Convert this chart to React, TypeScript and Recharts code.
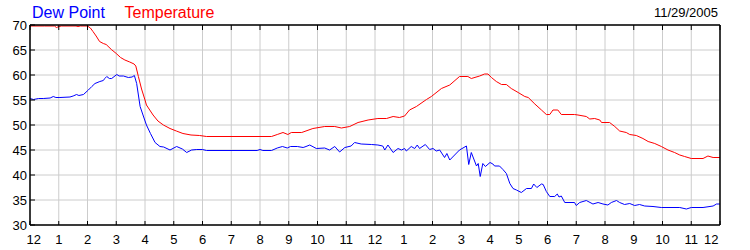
// Dew point and temperature over 24 hours, drawn with recharts.

import * as React from 'react';
import { CartesianGrid, Line, LineChart, XAxis, YAxis } from 'recharts';

const tempHours = [
  0, 0.5, 0.85, 0.92, 1.0, 1.1, 1.6, 1.67, 1.75, 2.0, 2.1, 2.19, 2.3, 2.42, 2.55, 2.65, 2.83, 3.0, 3.15, 3.3,
  3.47, 3.62, 3.68, 3.77, 3.88, 4.0, 4.05, 4.28, 4.45, 4.64, 4.87, 5.09, 5.32, 5.6, 5.9, 6.14, 8.4, 8.6, 8.8,
  8.97, 9.09, 9.45, 9.84, 10.25, 10.6, 10.83, 11.12, 11.41, 11.76, 12.1, 12.4, 12.63, 12.85, 13.03, 13.2,
  13.44, 13.79, 13.96, 14.31, 14.6, 14.94, 15.23, 15.35, 15.64, 15.81, 15.93, 16.05, 16.22, 16.4, 16.57,
  16.74, 16.98, 17.21, 17.33, 17.56, 17.79, 17.96, 18.08, 18.19, 18.36, 18.48, 18.94, 19.06, 19.35, 19.47,
  19.64, 19.82, 19.88, 20.16, 20.34, 20.51, 20.74, 20.86, 21.09, 21.32, 21.5, 21.73, 21.96, 22.19, 22.42,
  22.6, 22.77, 23.0, 23.41, 23.58, 23.76, 24,
];
const tempValues = [
  69.8, 69.8, 69.8, 69.5, 69.7, 69.8, 69.8, 69.7, 69.8, 69.8, 69.4, 68.7, 67.8, 66.7, 66.3, 66.1, 65.1, 64.3, 63.5, 63,
  62.6, 62.2, 61.8, 59.7, 57.2, 55, 54, 52, 50.8, 50, 49.3, 48.8, 48.3, 48, 47.9, 47.7, 47.7, 48.1, 48.5,
  48.1, 48.5, 48.5, 49.3, 49.7, 49.7, 49.4, 49.7, 50.5, 51, 51.3, 51.3, 51.7, 51.5, 51.8, 53,
  53.7, 55.1, 55.7, 57.3, 58, 59.7, 59.7, 59.3, 59.8, 60.2, 60.2, 59.5, 58.7, 58.1, 58.1,
  57.3, 56.5, 55.7, 55.5, 54.2, 53, 52.1, 52.1, 53, 53, 52.1, 52.1, 52, 51.7, 51.2,
  51.3, 51, 50.5, 50.5, 49.7, 48.8, 48.5, 48.1, 47.9, 47.3, 46.7, 46.3, 45.7, 45, 44.5,
  44, 43.7, 43.3, 43.3, 43.8, 43.5, 43.5,
];

const dewHours = [
  0, 0.12, 0.3, 0.46, 0.7, 0.81, 0.9, 1.04, 1.39, 1.5, 1.62, 1.7, 1.86, 2.03, 2.15, 2.26, 2.43, 2.55, 2.6,
  2.67, 2.76, 2.84, 3.02, 3.1, 3.25, 3.42, 3.55, 3.63, 3.71, 3.83, 3.93, 4.05, 4.19, 4.35, 4.52, 4.65, 4.87,
  5.1, 5.3, 5.45, 5.62, 5.8, 6.0, 6.14, 7.9, 8.0, 8.1, 8.4, 8.6, 8.78, 8.95, 9.06, 9.3, 9.5, 9.6, 9.73,
  9.96, 10.25, 10.42, 10.6, 10.77, 10.95, 11.17, 11.29, 11.52, 11.88, 12.1, 12.27, 12.34, 12.45, 12.63,
  12.8, 12.92, 13.03, 13.09, 13.26, 13.38, 13.47, 13.55, 13.75, 13.9, 14.02, 14.13, 14.25, 14.42, 14.5,
  14.6, 14.77, 14.94, 15.18, 15.26, 15.35, 15.53, 15.59, 15.66, 15.75, 15.84, 16.0, 16.1, 16.16, 16.33,
  16.45, 16.57, 16.69, 16.8, 16.92, 17.09, 17.27, 17.44, 17.52, 17.63, 17.79, 17.85, 17.96, 18.08, 18.25,
  18.34, 18.4, 18.48, 18.6, 18.94, 19.0, 19.12, 19.35, 19.58, 19.76, 19.93, 20.1, 20.22, 20.4, 20.51,
  20.68, 20.86, 21.03, 21.2, 21.38, 21.67, 21.96, 22.6, 22.83, 23.0, 23.41, 23.76, 23.88, 24,
];
const dewValues = [
  55.3, 55.1, 55.3, 55.3, 55.4, 55.7, 55.5, 55.5, 55.6, 55.8, 56.1, 55.9, 56.1, 57, 57.7, 58.3, 58.7, 58.9, 59.3,
  59.7, 59.3, 59.3, 60.1, 59.8, 59.8, 59.5, 59.6, 59.9, 58.3, 53.7, 52, 50, 48.3, 46.5, 45.7, 45.6, 45,
  45.7, 45.2, 44.5, 45, 45.1, 45.1, 44.9, 44.9, 45.1, 44.9, 44.9, 45.4, 45.7, 45.4, 45.7, 45.7, 45.5, 45.7, 46,
  45.3, 45.4, 45, 45.7, 44.6, 45.5, 45.8, 46.5, 46.2, 46.1, 46, 45.8, 45, 46, 44.5,
  45.3, 45, 45.3, 44.8, 45.7, 45.3, 46, 45.3, 46.1, 45.1, 45.3, 44.8, 45, 43.5, 44.3,
  43, 44, 45, 45.8, 42.1, 44.5, 41.8, 42.3, 39.7, 42.3, 41.7, 42.5, 42.2, 41.8, 41.8,
  41.1, 40.3, 38.3, 37.3, 37, 36.5, 37.3, 37.3, 38.2, 37.5, 38.2, 38.1, 36.7, 35.7, 35.7,
  36.2, 35.6, 35.8, 34.5, 34.5, 33.9, 34.5, 34.9, 34.2, 34.5, 34.2, 34, 34.5, 34.9, 34.5,
  34.1, 34.3, 33.9, 34.1, 33.8, 33.7, 33.5, 33.5, 33.2, 33.5, 33.5, 33.8, 34.2, 34.2,
];

const hourTicks = [0, 1, 2, 3, 4, 5, 6, 7, 8, 9, 10, 11, 12, 13, 14, 15, 16, 17, 18, 19, 20, 21, 22, 23, 24];
const hourLabels = ['12', '1', '2', '3', '4', '5', '6', '7', '8', '9', '10', '11', '12', '1', '2', '3', '4', '5', '6', '7', '8', '9', '10', '11', '12'];
const valueTicks = [30, 35, 40, 45, 50, 55, 60, 65, 70];

type Row = { h: number; temp?: number; dew?: number };

function buildRows(): Row[] {
  const map = new Map<number, Row>();
  tempHours.forEach((h, i) => {
    const r = map.get(h) ?? { h };
    r.temp = tempValues[i];
    map.set(h, r);
  });
  dewHours.forEach((h, i) => {
    const r = map.get(h) ?? { h };
    r.dew = dewValues[i];
    map.set(h, r);
  });
  return Array.from(map.values()).sort((a, b) => a.h - b.h);
}

const rows = buildRows();

const FONT = 'Arial, "Liberation Sans", sans-serif';
const textStyle = { fontFamily: FONT, fontSize: 13, fill: '#000' };

const BottomTick = (props: any) => {
  const { x, y, index } = props;
  const last = index === hourTicks.length - 1;
  let anchor: 'middle' | 'start' | 'end' = 'middle';
  let tx = x;
  if (index === 0) {
    anchor = 'start';
    tx = x - 3.5;
  } else if (last) {
    anchor = 'end';
    tx = x - 1.5;
  }
  return (
    <g>
      <line x1={x} x2={x} y1={y} y2={y - 4} stroke='#000' />
      <text x={tx} y={y + 18.5} textAnchor={anchor} style={textStyle}>
        {hourLabels[index]}
      </text>
    </g>
  );
};

const TopTick = (props: any) => {
  const { x, y } = props;
  return <line x1={x} x2={x} y1={y} y2={y + 5} stroke='#000' />;
};

const LeftTick = (props: any) => {
  const { x, y, payload } = props;
  return (
    <g>
      <line x1={x} x2={x + 5} y1={y} y2={y} stroke='#000' />
      <text x={x - 3} y={y} dy='0.36em' textAnchor='end' style={textStyle}>
        {payload.value}
      </text>
    </g>
  );
};

const RightTick = (props: any) => {
  const { x, y, payload } = props;
  return (
    <g>
      <line x1={x} x2={x - 5} y1={y} y2={y} stroke='#000' />
      <text x={x + 6} y={y} dy='0.36em' textAnchor='start' style={textStyle}>
        {payload.value}
      </text>
    </g>
  );
};

export default function App() {
  return (
    <div style={{ position: 'absolute', left: 0, top: 0, width: 750, height: 250, background: '#fff' }}>
      <LineChart width={750} height={250} data={rows} margin={{ top: 0, right: 0, bottom: 0, left: 0 }}>
        <CartesianGrid stroke='#cccccc' horizontalValues={valueTicks} verticalValues={hourTicks} />
        <XAxis
          dataKey='h'
          type='number'
          domain={[0, 24]}
          ticks={hourTicks}
          interval={0}
          height={25}
          tickSize={0}
          tickMargin={0}
          tickLine={false}
          axisLine={{ stroke: '#000', strokeWidth: 1.5 }}
          tick={<BottomTick />}
        />
        <XAxis
          xAxisId='top'
          orientation='top'
          dataKey='h'
          type='number'
          domain={[0, 24]}
          ticks={hourTicks}
          interval={0}
          height={25}
          tickSize={0}
          tickMargin={0}
          tickLine={false}
          axisLine={{ stroke: '#000', strokeWidth: 1.5 }}
          tick={<TopTick />}
        />
        <YAxis
          type='number'
          domain={[30, 70]}
          ticks={valueTicks}
          interval={0}
          width={30}
          tickSize={0}
          tickMargin={0}
          tickLine={false}
          axisLine={{ stroke: '#000', strokeWidth: 1.5 }}
          tick={<LeftTick />}
        />
        <YAxis
          yAxisId='right'
          orientation='right'
          type='number'
          domain={[30, 70]}
          ticks={valueTicks}
          interval={0}
          width={30}
          tickSize={0}
          tickMargin={0}
          tickLine={false}
          axisLine={{ stroke: '#000', strokeWidth: 1.5 }}
          tick={<RightTick />}
        />
        <Line
          dataKey='dew'
          type='linear'
          stroke='#0000ff'
          strokeWidth={1}
          dot={false}
          connectNulls
          isAnimationActive={false}
        />
        <Line
          dataKey='temp'
          type='linear'
          stroke='#ff0000'
          strokeWidth={1}
          dot={false}
          connectNulls
          isAnimationActive={false}
        />
      </LineChart>
      <svg width={750} height={25} style={{ position: 'absolute', left: 0, top: 0, pointerEvents: 'none' }}>
        <text x={32} y={18} style={{ fontFamily: FONT, fontSize: 16, fill: '#0000ff' }}>
          Dew Point
        </text>
        <text x={124.5} y={18} style={{ fontFamily: FONT, fontSize: 16, fill: '#ff0000' }}>
          Temperature
        </text>
        <text x={718} y={17} textAnchor='end' style={textStyle}>
          11/29/2005
        </text>
      </svg>
    </div>
  );
}
